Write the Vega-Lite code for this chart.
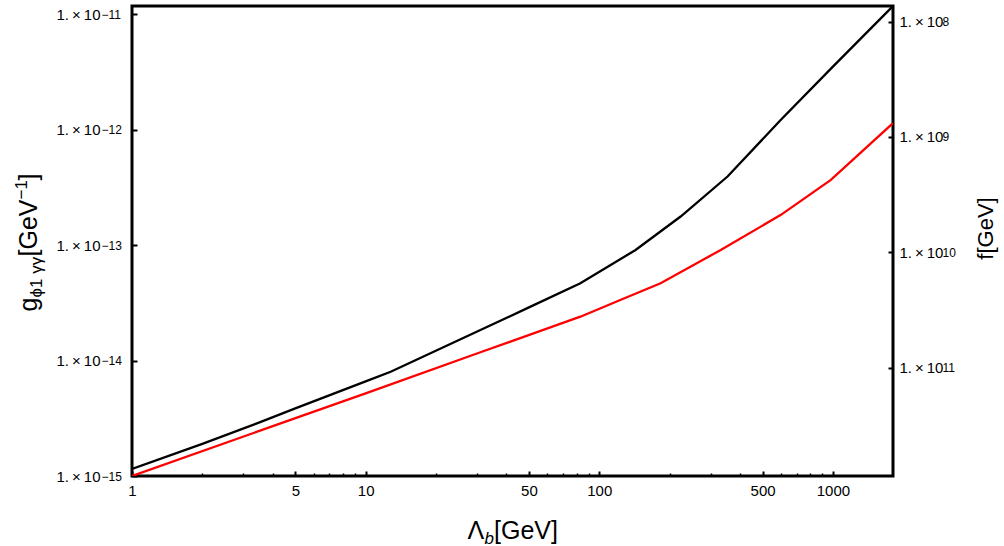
{
  "$schema": "https://vega.github.io/schema/vega-lite/v6.json",
  "width": 761,
  "height": 470,
  "autosize": {"type": "none"},
  "padding": {"left": 132, "top": 6, "right": 111, "bottom": 70},
  "background": "white",
  "config": {
    "font": "Liberation Sans",
    "view": {"stroke": "black", "strokeWidth": 3},
    "axis": {"grid": false, "zindex": 1, "domain": false, "tickColor": "black", "labelColor": "black", "titleColor": "black", "labelFont": "Liberation Sans", "titleFont": "Liberation Sans", "labelFontSize": 15, "titleFontSize": 25, "titleFontWeight": "normal", "labelFlush": false, "labelOverlap": false}
  },
  "datasets": {
    "curves": [
      {"series": "black", "L": 1, "g": 1.15e-15},
      {"series": "black", "L": 2, "g": 1.9e-15},
      {"series": "black", "L": 3.65, "g": 3.0e-15},
      {"series": "black", "L": 5, "g": 3.85e-15},
      {"series": "black", "L": 10, "g": 6.6e-15},
      {"series": "black", "L": 12.8, "g": 8.0e-15},
      {"series": "black", "L": 31, "g": 1.84e-14},
      {"series": "black", "L": 50, "g": 2.89e-14},
      {"series": "black", "L": 83, "g": 4.68e-14},
      {"series": "black", "L": 143, "g": 9.08e-14},
      {"series": "black", "L": 223, "g": 1.77e-13},
      {"series": "black", "L": 354, "g": 3.93e-13},
      {"series": "black", "L": 599, "g": 1.22e-12},
      {"series": "black", "L": 1000, "g": 3.52e-12},
      {"series": "black", "L": 1808, "g": 1.18e-11},
      {"series": "red", "L": 1, "g": 1.0e-15},
      {"series": "red", "L": 10, "g": 5.2e-15},
      {"series": "red", "L": 31, "g": 1.18e-14},
      {"series": "red", "L": 83, "g": 2.40e-14},
      {"series": "red", "L": 123, "g": 3.35e-14},
      {"series": "red", "L": 183, "g": 4.68e-14},
      {"series": "red", "L": 331, "g": 9.08e-14},
      {"series": "red", "L": 599, "g": 1.83e-13},
      {"series": "red", "L": 980, "g": 3.67e-13},
      {"series": "red", "L": 1808, "g": 1.14e-12}
    ],
    "fticks": [{"f": 1e8}, {"f": 1e9}, {"f": 1e10}, {"f": 1e11}]
  },
  "layer": [
    {
      "data": {"name": "curves"},
      "mark": {"type": "line", "strokeWidth": 2.3, "clip": true},
      "encoding": {
        "x": {
          "field": "L", "type": "quantitative",
          "scale": {"type": "log", "domain": [1, 1808], "nice": false, "zero": false},
          "axis": {"orient": "bottom", "values": [1, 5, 10, 50, 100, 500, 1000], "offset": -5, "tickSize": 5, "tickWidth": 2, "labelPadding": 7, "format": "d",
            "title": "Λ", "titleX": 335, "titleY": 67, "titleAlign": "left", "titleBaseline": "alphabetic", "titleAngle": 0}
        },
        "y": {
          "field": "g", "type": "quantitative",
          "scale": {"type": "log", "domain": [1e-15, 1.18e-11], "nice": false, "zero": false},
          "axis": {"orient": "left", "values": [1e-15, 1e-14, 1e-13, 1e-12, 1e-11], "offset": -5, "tickSize": 5, "tickWidth": 2, "labelPadding": 32, "labelDy": 3,
            "labelExpr": "'1.\u2009×\u200910'",
            "title": "g", "titleX": -101, "titleY": 305, "titleAngle": 270, "titleAlign": "left", "titleBaseline": "alphabetic"}
        },
        "color": {"field": "series", "type": "nominal", "scale": {"domain": ["black", "red"], "range": ["#000000", "#ff0000"]}, "legend": null}
      }
    },
    {
      "data": {"name": "curves"},
      "mark": {"type": "rule", "opacity": 0},
      "encoding": {
        "x": {
          "field": "L", "type": "quantitative",
          "scale": {"type": "log", "domain": [1, 1808], "nice": false, "zero": false},
          "axis": {"orient": "bottom", "values": [2, 3, 4, 6, 7, 8, 9, 20, 30, 40, 60, 70, 80, 90, 200, 300, 400, 600, 700, 800, 900], "offset": -3, "tickSize": 3, "tickWidth": 1.5, "labels": false,
            "title": "b", "titleFontSize": 17, "titleFontStyle": "italic", "titleX": 352, "titleY": 70, "titleAlign": "left", "titleBaseline": "alphabetic", "titleAngle": 0}
        }
      }
    },
    {
      "data": {"name": "curves"},
      "mark": {"type": "point", "opacity": 0},
      "encoding": {
        "x": {
          "field": "L", "type": "quantitative",
          "scale": {"type": "log", "domain": [1, 1808], "nice": false, "zero": false},
          "axis": {"orient": "bottom", "values": [], "ticks": false, "labels": false,
            "title": "[GeV]", "titleX": 361.5, "titleY": 62, "titleAlign": "left", "titleBaseline": "alphabetic", "titleAngle": 0}
        }
      }
    },
    {
      "data": {"name": "curves"},
      "mark": {"type": "point", "opacity": 0},
      "encoding": {
        "y": {
          "field": "g", "type": "quantitative",
          "scale": {"type": "log", "domain": [1e-15, 1.18e-11], "nice": false, "zero": false},
          "axis": {"orient": "left", "values": [1e-15, 1e-14, 1e-13, 1e-12, 1e-11], "offset": -5, "tickSize": 5, "tickOpacity": 0, "labelPadding": 31, "labelAlign": "left", "labelFontSize": 12, "labelDy": -4,
            "labelExpr": "datum.value < 3e-15 ? '−15' : datum.value < 3e-14 ? '−14' : datum.value < 3e-13 ? '−13' : datum.value < 3e-12 ? '−12' : '−11'",
            "title": "ϕ1 γγ", "titleFontSize": 17, "titleX": -96, "titleY": 291, "titleAngle": 270, "titleAlign": "left", "titleBaseline": "alphabetic"}
        }
      }
    },
    {
      "data": {"name": "curves"},
      "mark": {"type": "point", "opacity": 0},
      "encoding": {
        "y": {
          "field": "g", "type": "quantitative",
          "scale": {"type": "log", "domain": [1e-15, 1.18e-11], "nice": false, "zero": false},
          "axis": {"orient": "left", "values": [], "ticks": false, "labels": false,
            "title": "[GeV", "titleX": -96, "titleY": 250, "titleAngle": 270, "titleAlign": "left", "titleBaseline": "alphabetic"}
        }
      }
    },
    {
      "data": {"name": "curves"},
      "mark": {"type": "point", "opacity": 0},
      "encoding": {
        "y": {
          "field": "g", "type": "quantitative",
          "scale": {"type": "log", "domain": [1e-15, 1.18e-11], "nice": false, "zero": false},
          "axis": {"orient": "left", "values": [], "ticks": false, "labels": false,
            "title": "−1", "titleFontSize": 17, "titleX": -106, "titleY": 193, "titleAngle": 270, "titleAlign": "left", "titleBaseline": "alphabetic"}
        }
      }
    },
    {
      "data": {"name": "curves"},
      "mark": {"type": "point", "opacity": 0},
      "encoding": {
        "y": {
          "field": "g", "type": "quantitative",
          "scale": {"type": "log", "domain": [1e-15, 1.18e-11], "nice": false, "zero": false},
          "axis": {"orient": "left", "values": [], "ticks": false, "labels": false,
            "title": "]", "titleX": -96, "titleY": 174, "titleAngle": 270, "titleAlign": "left", "titleBaseline": "alphabetic"}
        }
      }
    },
    {
      "data": {"name": "fticks"},
      "mark": {"type": "point", "opacity": 0},
      "encoding": {
        "y": {
          "field": "f", "type": "quantitative",
          "scale": {"type": "log", "domain": [7.33e7, 8.65e11], "reverse": true, "nice": false, "zero": false},
          "axis": {"orient": "right", "values": [1e8, 1e9, 1e10, 1e11], "offset": -5, "tickSize": 5, "tickWidth": 2, "labelPadding": 6, "labelDy": 2,
            "labelExpr": "'1.\u2009×\u200910'",
            "title": "f[GeV]", "titleFontSize": 22, "titleX": 104, "titleY": 222, "titleAngle": 270, "titleAlign": "center", "titleBaseline": "alphabetic"}
        }
      }
    },
    {
      "data": {"name": "fticks"},
      "mark": {"type": "point", "opacity": 0},
      "encoding": {
        "y": {
          "field": "f", "type": "quantitative",
          "scale": {"type": "log", "domain": [7.33e7, 8.65e11], "reverse": true, "nice": false, "zero": false},
          "axis": {"orient": "right", "values": [1e8, 1e9, 1e10, 1e11], "offset": -5, "tickSize": 5, "tickOpacity": 0, "labelPadding": 49, "labelFontSize": 12, "labelDy": -5,
            "labelExpr": "datum.value < 3e8 ? '8' : datum.value < 3e9 ? '9' : datum.value < 3e10 ? '10' : '11'",
            "title": null}
        }
      }
    }
  ],
  "resolve": {"scale": {"y": "independent"}, "axis": {"x": "independent", "y": "independent"}}
}
